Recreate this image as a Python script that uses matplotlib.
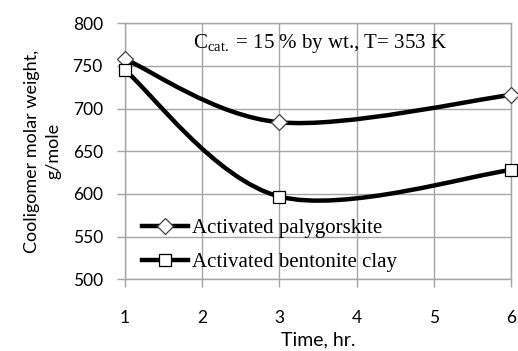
import numpy as np
import matplotlib
matplotlib.use("Agg")
import matplotlib.pyplot as plt
from matplotlib.path import Path
from matplotlib.patches import PathPatch

# data
time_hr = [1, 3, 6]
palygorskite = [758, 684, 716]
bentonite = [745, 597, 628]
x_ticks = [1, 2, 3, 4, 5, 6]
y_ticks = [500, 550, 600, 650, 700, 750, 800]

sans = "Lato"
serif = "Liberation Serif"
grid_c = "#a6a6a6"

plt.rcParams["mathtext.fontset"] = "custom"
plt.rcParams["mathtext.rm"] = serif
plt.rcParams["mathtext.it"] = serif + ":italic"


def smooth_path(xs, ys):
    # Excel-like smoothed line: cubic Bezier through the points (Catmull-Rom controls)
    pts = np.column_stack([xs, ys]).astype(float)
    n = len(pts)
    verts = [pts[0]]
    codes = [Path.MOVETO]
    for i in range(n - 1):
        p0 = pts[i - 1] if i > 0 else pts[i]
        p1 = pts[i]
        p2 = pts[i + 1]
        p3 = pts[i + 2] if i + 2 < n else pts[i + 1]
        c1 = p1 + (p2 - p0) / 6.0
        c2 = p2 - (p3 - p1) / 6.0
        verts += [c1, c2, p2]
        codes += [Path.CURVE4] * 3
    return Path(verts, codes)


fig = plt.figure(figsize=(5.18, 3.51), dpi=100)
ax = fig.add_axes([0.2413, 0.2043, 0.7452, 0.7293])

for ys in (palygorskite, bentonite):
    ax.add_patch(PathPatch(smooth_path(time_hr, ys), facecolor="none",
                           edgecolor="black", lw=3.2, zorder=3,
                           capstyle="round"))

ax.plot(time_hr, palygorskite, ls="none", marker="D", ms=8, mfc="white",
        mec="#404040", mew=0.9, zorder=4, clip_on=False)
ax.plot(time_hr, bentonite, ls="none", marker="s", ms=8.5, mfc="white",
        mec="black", mew=0.9, zorder=4, clip_on=False)

# legend handles (line + marker)
h1, = ax.plot([], [], color="black", lw=3.2, marker="D", ms=8, mfc="white",
              mec="#404040", mew=0.9, label="Activated palygorskite")
h2, = ax.plot([], [], color="black", lw=3.2, marker="s", ms=8.5, mfc="white",
              mec="black", mew=0.9, label="Activated bentonite clay")
leg = ax.legend(handles=[h1, h2], loc="center left", frameon=False,
                prop={"family": serif, "size": 15}, handlelength=2.2,
                handletextpad=0.2, labelspacing=0.7, borderpad=0,
                borderaxespad=0, bbox_to_anchor=(0.044, 0.133))

ax.text(0.176, 0.923, r"C$_{\rm cat.}$ = 15 % by wt., T= 353 K",
        transform=ax.transAxes, fontsize=15, family=serif, va="center")

ax.set_xlim(1, 6)
ax.set_ylim(500, 800)
ax.set_xticks(x_ticks)
ax.set_yticks(y_ticks)
ax.grid(True, color=grid_c, lw=1)
ax.set_axisbelow(True)
for s in ax.spines.values():
    s.set_color(grid_c)
    s.set_linewidth(1)

ax.tick_params(axis="both", direction="out", color=grid_c, length=6,
               width=1, labelsize=12.5)
ax.tick_params(axis="y", pad=10)
ax.tick_params(axis="x", pad=16)
for lab in ax.get_xticklabels() + ax.get_yticklabels():
    lab.set_family(sans)

ax.set_xlabel("Time, hr.", fontsize=14, family=sans, labelpad=4)
ax.set_ylabel("Cooligomer molar weight,\ng/mole", fontsize=13,
              family=sans, labelpad=8, multialignment="center",
              linespacing=1.45)

fig.savefig("out.png", dpi=100)
